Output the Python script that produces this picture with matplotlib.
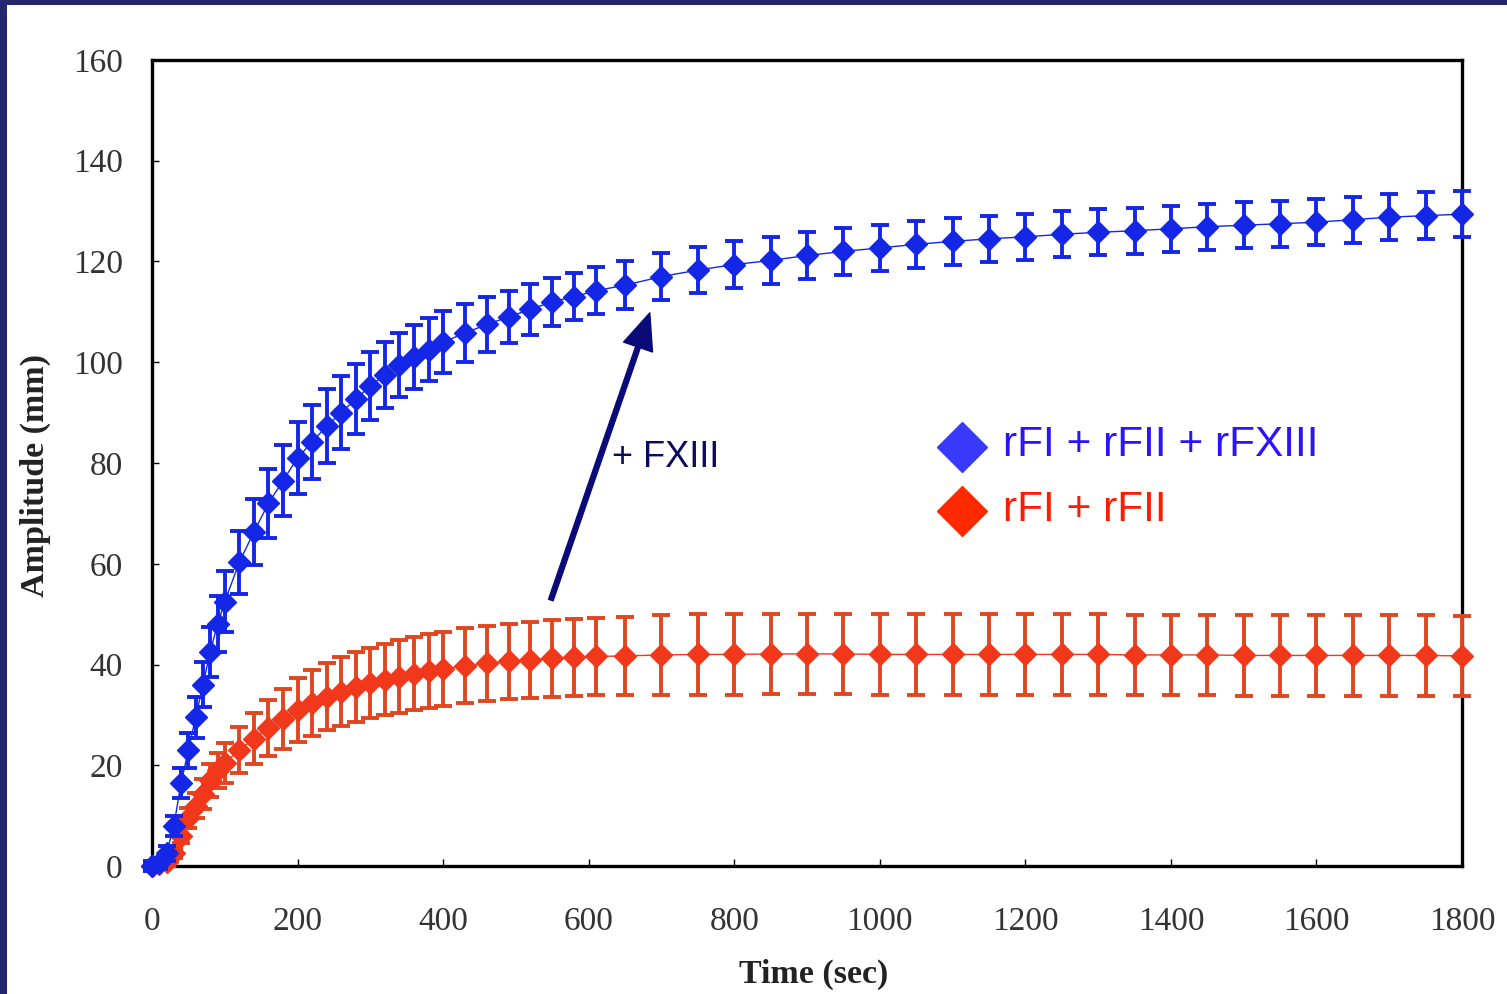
import matplotlib
matplotlib.use("Agg")
import matplotlib.pyplot as plt

# time points (sec)
times = [0, 10, 20, 30, 40, 50, 60, 70, 80, 90, 100,
         120, 140, 160, 180, 200, 220, 240, 260, 280, 300, 320, 340, 360, 380, 400,
         430, 460, 490, 520, 550, 580, 610,
         650, 700, 750, 800, 850, 900, 950, 1000, 1050, 1100, 1150, 1200, 1250,
         1300, 1350, 1400, 1450, 1500, 1550, 1600, 1650, 1700, 1750, 1800]

# rFI + rFII + rFXIII
blue_amp = [0, 0.5, 2.5, 8, 16.5, 23, 29.5, 36, 42.5, 48, 52.5,
            60.3, 66.3, 72, 76.5, 81, 84.2, 87.3, 90, 92.7, 95.3, 97.5, 99.5, 101, 102.5, 104,
            105.8, 107.5, 109, 110.5, 112, 113, 114.2,
            115.3, 117, 118.3, 119.4, 120.2, 121.2, 122, 122.7, 123.4, 124, 124.5, 124.9, 125.4,
            125.8, 126.1, 126.5, 126.9, 127.2, 127.5, 127.8, 128.3, 128.8, 129.1, 129.4]
blue_err = [1, 1, 1.5, 2, 3, 3.5, 4, 4.5, 5, 5.5, 6,
            6.3, 6.5, 6.8, 7, 7.2, 7.3, 7.3, 7.2, 7, 6.8, 6.6, 6.4, 6.3, 6.2, 6.1,
            5.8, 5.5, 5.2, 5, 4.8, 4.7, 4.7,
            4.7, 4.6, 4.6, 4.6, 4.6, 4.6, 4.6, 4.6, 4.6, 4.6, 4.6, 4.6, 4.6,
            4.6, 4.6, 4.6, 4.6, 4.6, 4.6, 4.6, 4.6, 4.6, 4.6, 4.6]

# rFI + rFII
red_amp = [0, 0.3, 0.8, 2.5, 6, 9.5, 12, 14.3, 17, 19, 20.5,
           23, 25.3, 27.4, 29.2, 31, 32.4, 33.6, 34.6, 35.5, 36.3, 37, 37.6, 38.2, 38.7, 39.1,
           39.8, 40.2, 40.6, 40.9, 41.2, 41.4, 41.6,
           41.7, 41.9, 42, 42, 42.1, 42.1, 42.1, 42, 42, 42, 42, 42, 42,
           42, 41.9, 41.9, 41.9, 41.8, 41.8, 41.8, 41.8, 41.8, 41.8, 41.7]
red_err = [0.5, 0.5, 0.8, 1, 1.5, 2, 2.5, 3, 3.3, 3.5, 4,
           4.5, 5, 5.5, 6, 6.3, 6.5, 6.7, 6.8, 6.9, 7, 7.1, 7.2, 7.2, 7.3, 7.3,
           7.4, 7.5, 7.5, 7.6, 7.6, 7.7, 7.7,
           7.8, 8, 8, 8, 8, 8, 8, 8, 8, 8, 8, 8, 8,
           8, 8, 8, 8, 8, 8, 8, 8, 8, 8, 8]

x_ticks = [0, 200, 400, 600, 800, 1000, 1200, 1400, 1600, 1800]
y_ticks = [0, 20, 40, 60, 80, 100, 120, 140, 160]

navy = "#26266e"
fig = plt.figure(figsize=(15.07, 9.94), dpi=100, facecolor=navy)
fig.add_artist(plt.Rectangle((7 / 1507, 0), 1, 989 / 994, transform=fig.transFigure,
                             facecolor="white", edgecolor="none", zorder=-1))

ax = fig.add_axes([152 / 1507, 128 / 994, 1310 / 1507, 806 / 994])

ax.errorbar(times, red_amp, yerr=red_err, fmt="D-", color="#f2381a", ecolor="#e0461f",
            markersize=11, linewidth=1, elinewidth=2.8, capsize=6.5, capthick=2.8,
            clip_on=False, zorder=3)
ax.errorbar(times, blue_amp, yerr=blue_err, fmt="D-", color="#1426e6", ecolor="#1426e6",
            markersize=11, linewidth=1, elinewidth=2.8, capsize=6.5, capthick=2.8,
            clip_on=False, zorder=4)

ax.set_xlim(0, 1800)
ax.set_ylim(0, 160)
ax.set_xticks(x_ticks)
ax.set_yticks(y_ticks)
for s in ax.spines.values():
    s.set_linewidth(2.4)
ax.tick_params(direction="in", length=5, width=1, labelsize=24, labelcolor="#333333")
ax.tick_params(axis="x", pad=29)
ax.tick_params(axis="y", pad=21)
for lab in ax.get_xticklabels() + ax.get_yticklabels():
    lab.set_family("Liberation Serif")

ax.set_xlabel("Time (sec)", family="Liberation Serif", fontweight="bold", fontsize=24.5,
              color="#222222")
ax.set_ylabel("Amplitude (mm)", family="Liberation Serif", fontweight="bold", fontsize=24.5,
              color="#222222")
ax.xaxis.set_label_coords(0.505, -0.115)
ax.yaxis.set_label_coords(-0.077, 0.485)

# legend drawn by hand
ax.plot([0.618], [0.520], "D", color="#3a3aff", markersize=25, transform=ax.transAxes, clip_on=False)
ax.plot([0.618], [0.4404], "D", color="#ff2a00", markersize=25, transform=ax.transAxes, clip_on=False)
ax.text(0.6496, 0.522, "rFI + rFII + rFXIII", color="#2a14ff", fontsize=30.5,
        family="Liberation Sans", va="center", transform=ax.transAxes)
ax.text(0.6496, 0.442, "rFI + rFII", color="#ff1a00", fontsize=30.5,
        family="Liberation Sans", va="center", transform=ax.transAxes)

# annotation arrow
ax.annotate("", xy=(684, 109.8), xytext=(548, 52.8),
            arrowprops=dict(facecolor="#0a0a78", edgecolor="#0a0a78", width=3.5,
                            headwidth=22, headlength=26, shrink=0))
ax.text(0.3511, 0.5074, "+ FXIII", color="#0a0a60", fontsize=26,
        family="Liberation Sans", va="center", transform=ax.transAxes)

plt.savefig("out.png", dpi=100, facecolor=fig.get_facecolor())
